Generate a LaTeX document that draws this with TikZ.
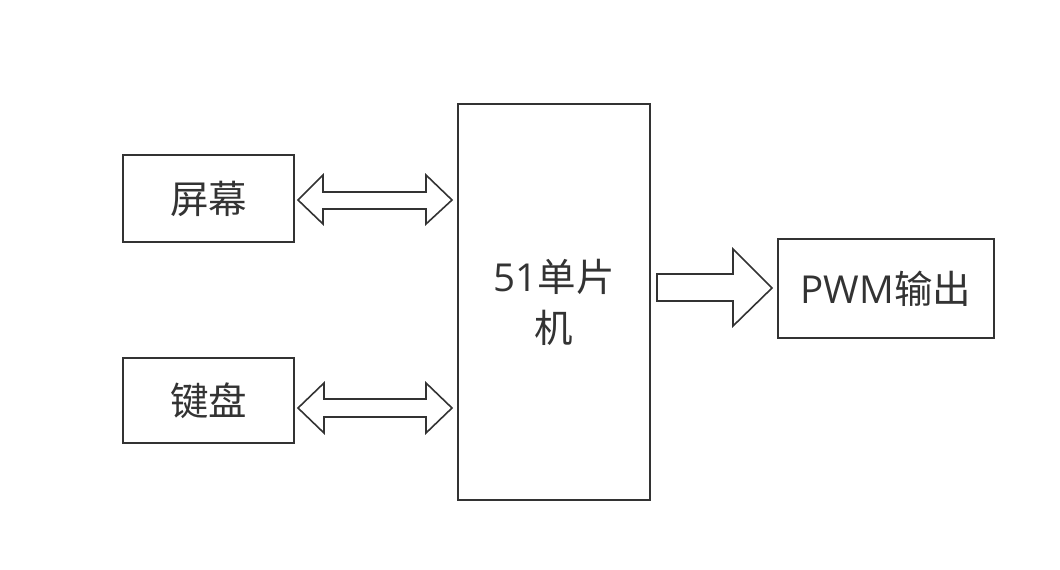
\documentclass[tikz,border=0pt]{standalone}
\usepackage{fontspec}
\setmainfont{Noto Sans CJK SC}
\newfontfamily\lat{Open Sans}
\begin{document}
\begin{tikzpicture}[x=1pt,y=-1pt,
  blk/.style={draw=black!80,line width=1.6pt,inner sep=0pt,text=black!80,font=\fontsize{38.5}{51}\selectfont},
  arr/.style={draw=black!80,line width=1.6pt,line join=miter}]
\useasboundingbox (0,0) rectangle (1060,570);
\node[blk,minimum width=171pt,minimum height=87pt] (scr) at (208.5,198.5) {屏幕};
\node[blk,minimum width=171pt,minimum height=85pt] (key) at (208.5,400.5) {键盘};
\node[blk,minimum width=192pt,minimum height=396pt,align=center] (mcu) at (554,302) {{\lat 51}单片\\机};
\node[blk,minimum width=216pt,minimum height=99pt] (pwm) at (886,288.5) {{\lat PWM}输出};
% double arrows
\draw[arr] (298,200) -- (323,175) -- (323,192) -- (426,192) -- (426,175) -- (452,200) -- (426,224) -- (426,209) -- (323,209) -- (323,224) -- cycle;
\draw[arr] (298,408) -- (324,383) -- (324,399) -- (426,399) -- (426,383) -- (452,408) -- (426,433) -- (426,417) -- (324,417) -- (324,433) -- cycle;
% right arrow
\draw[arr] (657,274) -- (733,274) -- (733,249) -- (772,288) -- (733,326) -- (733,301) -- (657,301) -- cycle;
\end{tikzpicture}
\end{document}
